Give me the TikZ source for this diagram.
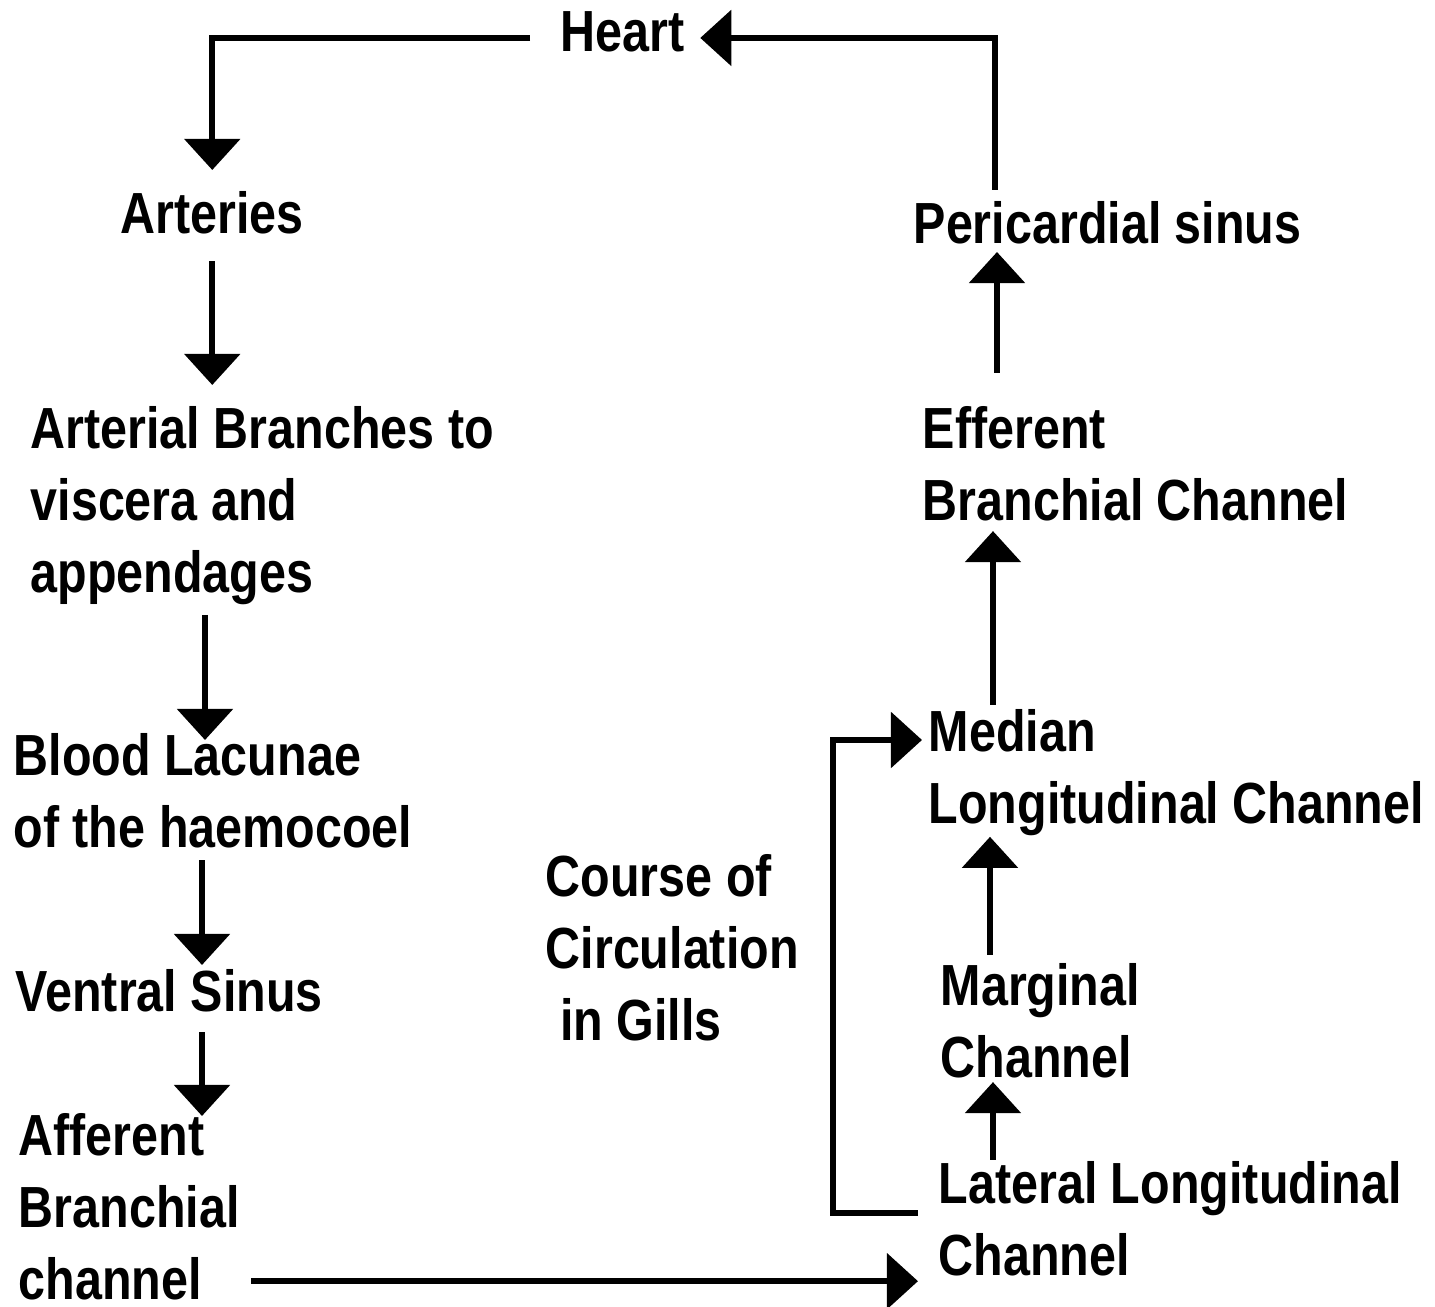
\documentclass[tikz,border=0pt]{standalone}
\usepackage{fontspec}
\setmainfont{Liberation Sans}[FakeStretch=0.835]
\usetikzlibrary{arrows.meta, positioning, calc}
\tikzset{%
  stage/.style={anchor=north west, inner sep=0pt, align=left,
    font=\fontsize{16.5}{20.5}\selectfont\bfseries},
  flow/.style={line width=1.6pt, -{Triangle[width=0.55cm, length=0.31cm]}},
  plain/.style={line width=1.6pt}
}

\begin{document}
\begin{tikzpicture}[x=0.01cm, y=-0.01cm]
  \useasboundingbox (0,0) rectangle (1435,1307);

  \node[stage] (heart) at (560,11) {Heart};
  \node[stage] (arteries) at (120,191) {Arteries};
  \node[stage] (branches) at (30,406) {Arterial Branches to\\viscera and\\appendages};
  \node[stage] (lacunae) at (13,733) {Blood Lacunae\\of the haemocoel};
  \node[stage] (ventral) at (15,969) {Ventral Sinus};
  \node[stage] (afferent) at (18,1113) {Afferent\\Branchial\\channel};
  \node[stage] (course) at (545,854) {Course of\\Circulation\\\hspace*{0.25em}in Gills};
  \node[stage] (pericardial) at (913,201) {Pericardial sinus};
  \node[stage] (efferent) at (922,406) {Efferent\\Branchial Channel};
  \node[stage] (median) at (928,709) {Median\\Longitudinal Channel};
  \node[stage] (marginal) at (940,963) {Marginal\\Channel};
  \node[stage] (lateral) at (938,1161) {Lateral Longitudinal\\Channel};

  % left column, going down
  \draw[flow, shorten >=0.21cm] ($(heart.west)+(-30,6)$) -| (arteries.north);
  \draw[flow, shorten <=0.26cm, shorten >=0.21cm] (arteries.south) -- (arteries.south |- branches.north);
  \draw[flow, shorten <=0.06cm] ($(lacunae.north west |- branches.south)+(192,3)$) -- ($(lacunae.north west)+(192,7)$);
  \draw[flow, shorten <=0.08cm, shorten >=0.04cm] ($(ventral.north west |- lacunae.south)+(187,3)$) -- ($(ventral.north west)+(187,0)$);
  \draw[flow, shorten <=0.16cm] ($(afferent.north west |- ventral.south)+(184,3)$) -- ($(afferent.north west)+(184,3)$);

  % across the bottom
  \draw[flow, shorten >=0.2cm] ($(afferent.south east)+(11,-20)$) coordinate (out) -- (out -| lateral.west);

  % right column, going up
  \draw[flow] ($(lateral.west)+(-20,-6)$) -| ($(median.north west)+(-95,31)$) -- ($(median.north west)+(-6,31)$);
  \draw[flow] ($(lateral.north west)+(55,-1)$) -- ($(lateral.north west |- marginal.south)+(55,3)$);
  \draw[flow] ($(marginal.north west)+(50,-8)$) -- ($(marginal.north west |- median.south)+(50,0)$);
  \draw[flow] ($(median.north west)+(65,-4)$) -- ($(median.north west |- efferent.south)+(65,9)$);
  \draw[flow] ($(efferent.north west)+(75,-33)$) -- ($(efferent.north west |- pericardial.south)+(75,7)$);
  \draw[flow, shorten >=0.15cm] ($(pericardial.north west)+(82,-11)$) |- ($(heart.east)+(0,6)$);
\end{tikzpicture}
\end{document}
